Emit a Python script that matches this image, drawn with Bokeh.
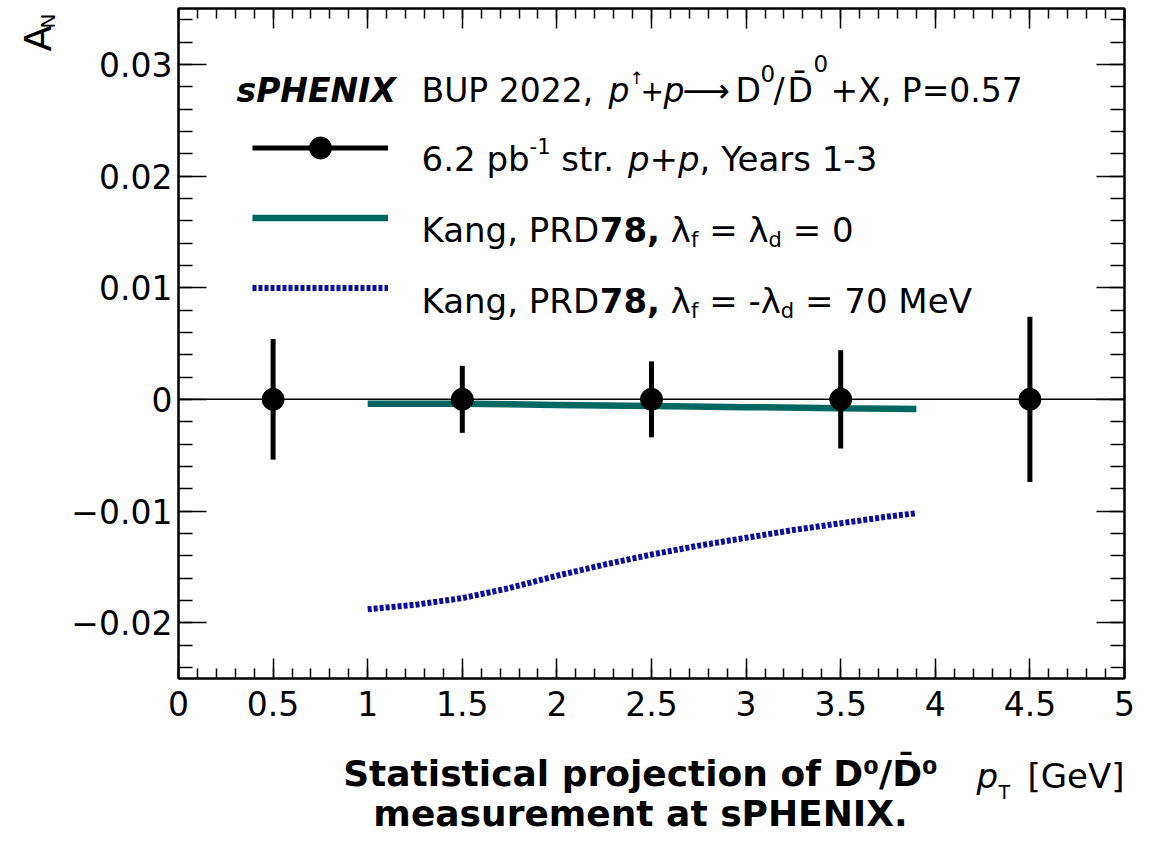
from math import pi
import numpy as np
from bokeh.plotting import figure
from bokeh.layouts import column, row as brow
from bokeh.models import (ColumnDataSource, Range1d, LinearAxis, SingleIntervalTicker,
                          CustomJSTickFormatter, Span, Label, Legend, LegendItem)
from bokeh.embed import file_html
from bokeh.resources import INLINE

# ---------------- data ----------------
pt_x = [0.5, 1.5, 2.5, 3.5, 4.5]
pt_y = [0.0, 0.0, 0.0, 0.0, 0.0]
pt_err = [0.0054, 0.0030, 0.0034, 0.0044, 0.0074]

kang0_x = [1.0, 1.5, 2.0, 2.5, 3.0, 3.5, 3.9]
kang0_y = [-0.0004, -0.0004, -0.0005, -0.0006, -0.0007, -0.0008, -0.00087]

kang70_x = [1.0, 1.25, 1.5, 1.75, 2.0, 2.25, 2.5, 2.75, 3.0, 3.25, 3.5, 3.75, 3.9]
kang70_y = [-0.0188, -0.0184, -0.0178, -0.0169, -0.0158, -0.0148, -0.0139,
            -0.0131, -0.0124, -0.0117, -0.0111, -0.0105, -0.0102]

x_limits = (0, 5)
y_limits = (-0.025, 0.035)

caption_lines = ["Statistical projection of D⁰/D̄⁰", "measurement at sPHENIX."]

# ---------------- styling / layout ----------------
FONT = "DejaVu Sans"
TEAL = "#00685f"
BLUE = "#0c0c9e"

TOTAL_W = 1146
LEFT_W = 64            # narrow panel holding the y title
TOP_H = 735            # height of the plotting row
BOT_H = 94             # caption panel (page stays within 829 px)
FRAME_L, FRAME_R = 178, 1124   # page x of frame edges
MIN_TOP, FRAME_B = 8, 678      # requested top border / page y of frame bottom

p = figure(width=TOTAL_W - LEFT_W, height=TOP_H, x_range=Range1d(*x_limits),
           y_range=Range1d(*y_limits), x_axis_type=None, y_axis_type=None,
           output_backend="svg", toolbar_location=None,
           min_border_left=FRAME_L - LEFT_W, min_border_right=TOTAL_W - FRAME_R,
           min_border_top=MIN_TOP, min_border_bottom=TOP_H - FRAME_B,
           background_fill_color="white", border_fill_color="white",
           outline_line_color="black", outline_line_width=2)

fmt_x = CustomJSTickFormatter(code="return String(Math.round(tick*10)/10);")
fmt_y = CustomJSTickFormatter(code="""
const v = Math.round(tick*1000)/1000;
if (Math.abs(v) < 1e-9) { return '0'; }
return (v < 0 ? '\u2212' : '') + Math.abs(v).toFixed(2);
""")
fmt_none = CustomJSTickFormatter(code="return '';")


def add_axis(side, interval, tick_len, fmt, show, standoff):
    ax = LinearAxis(ticker=SingleIntervalTicker(interval=interval, num_minor_ticks=5),
                    formatter=fmt,
                    major_tick_in=tick_len, major_tick_out=0,
                    minor_tick_in=tick_len // 2, minor_tick_out=0,
                    axis_line_width=2, axis_line_color="black",
                    major_tick_line_width=1.5, minor_tick_line_width=1.5,
                    major_label_text_font=FONT,
                    major_label_text_font_size="33px" if show else "1px",
                    major_label_standoff=standoff,
                    major_label_text_color="black")
    p.add_layout(ax, side)


add_axis("below", 0.5, 20, fmt_x, True, 12)
add_axis("above", 0.5, 20, fmt_none, False, 0)
add_axis("left", 0.01, 28, fmt_y, True, 6)
add_axis("right", 0.01, 28, fmt_none, False, 0)

p.add_layout(Span(location=0, dimension="width", line_color="black",
                  line_width=1.5, level="underlay"))

# ---------------- glyphs ----------------
teal_r = p.line(kang0_x, kang0_y, line_color=TEAL, line_width=6.5)
blue_r = p.line(kang70_x, kang70_y, line_color=BLUE, line_width=6, line_dash="4 2")

src = ColumnDataSource(dict(x=pt_x, y=pt_y,
                            lo=np.array(pt_y) - np.array(pt_err),
                            hi=np.array(pt_y) + np.array(pt_err)))
seg_r = p.segment(x0="x", y0="lo", x1="x", y1="hi", source=src,
                  line_color="black", line_width=5)
dot_r = p.scatter("x", "y", source=src, size=22, marker="circle",
                  fill_color="black", line_color="black")

leg = Legend(items=[LegendItem(label=" ", renderers=[seg_r, dot_r]),
                    LegendItem(label=" ", renderers=[teal_r]),
                    LegendItem(label=" ", renderers=[blue_r])],
             location=(74, 363), glyph_width=136, glyph_height=55, spacing=15,
             padding=0, margin=0, label_standoff=0, label_width=1, label_height=1,
             label_text_font_size="1px", border_line_alpha=0,
             background_fill_alpha=0)
p.add_layout(leg)


# ---------------- text panels ----------------
def blank_fig(w, h):
    return figure(width=w, height=h, x_range=Range1d(0, 1), y_range=Range1d(0, 1),
                  x_axis_type=None, y_axis_type=None, output_backend="svg",
                  toolbar_location=None, min_border=0, title=None,
                  outline_line_color=None, background_fill_color="white",
                  border_fill_color="white")


left_fig = blank_fig(LEFT_W, TOP_H)
bot_fig = blank_fig(TOTAL_W, BOT_H)

# (figure, page x of its frame's left edge, page y of its frame's bottom edge)
PANELS = {"main": (p, FRAME_L, FRAME_B),
          "left": (left_fig, 0, FRAME_B),
          "bottom": (bot_fig, 0, TOP_H + BOT_H)}

REG = {' ': .318, ',': .318, '-': .361, '.': .318, '/': .337, '=': .838, '+': .838,
       'K': .656, 'M': .863, 'P': .603, 'R': .695, 'D': .770, 'V': .684, 'X': .686,
       'Y': .611, 'a': .613, 'b': .635, 'd': .635, 'e': .615, 'f': .352, 'g': .635,
       'n': .634, 'p': .635, 'r': .411, 's': .521, 't': .392, 'λ': .592}
BOLD = {'7': .696, '8': .696, ',': .381, ' ': .348}


def text_width(s, style):
    w = 0.0
    for ch in s:
        if 'bold' in style and ch in BOLD:
            w += BOLD[ch]
        elif ch.isdigit():
            w += .636
        else:
            w += REG.get(ch, .6)
    return w


def put(panel, text, rx, ry, size, style="normal", angle=0.0, align="left"):
    fig, ox, oy = PANELS[panel]
    fig.add_layout(Label(x=rx - ox, y=oy - ry, x_units="screen", y_units="screen",
                         text=text, text_font=FONT, text_font_size=f"{size}px",
                         text_font_style=style, text_color="black", text_align=align,
                         text_baseline="alphabetic", angle=angle))


def text_row(x, y, segs):
    for txt, size, style, dy in segs:
        lead = len(txt) - len(txt.lstrip(' '))
        x += lead * REG[' '] * size
        core = txt.strip(' ')
        put("main", core, x, y + dy, size, style)
        x += text_width(core, style) * size


# legend header
for txt, hx, dy, size, style in [
        ("sPHENIX", 236, 0, 33, "bold italic"),
        ("BUP 2022,", 421, 0, 33, "normal"),
        ("p", 608, 0, 33, "italic"),
        ("↑", 629, -13, 17, "normal"),
        ("+", 640, 0, 28, "normal"),
        ("p", 663, 0, 33, "italic"),
        ("⟶", 682, 0, 33, "normal"),
        ("D", 735, 0, 33, "normal"),
        ("0", 760, -17, 23, "normal"),
        ("/", 773, 0, 33, "normal"),
        ("D\u0304", 787, 0, 33, "normal"),
        ("0", 813, -27, 23, "normal"),
        ("+X, P=0.57", 830, 0, 33, "normal")]:
    put("main", txt, hx, 90 + dy, size, style)

# legend entries
text_row(421, 158, [("6.2 pb", 34, "normal", 0), ("-1", 21, "normal", -13),
                    (" str.", 34, "normal", 0), (" p+p", 34, "italic", 0),
                    (", Years 1-3", 34, "normal", 0)])
text_row(421, 229, [("Kang, PRD", 34, "normal", 0), ("78,", 34, "bold", 0),
                    (" λ", 34, "normal", 0), ("f", 21, "normal", 10),
                    (" = λ", 34, "normal", 0), ("d", 21, "normal", 10),
                    (" = 0", 34, "normal", 0)])
text_row(421, 300, [("Kang, PRD", 34, "normal", 0), ("78,", 34, "bold", 0),
                    (" λ", 34, "normal", 0), ("f", 21, "normal", 10),
                    (" = -λ", 34, "normal", 0), ("d", 21, "normal", 10),
                    (" = 70 MeV", 34, "normal", 0)])

# axis titles (rotated labels render ~12px right of their anchor)
put("left", "A", 37, 51, 38, angle=pi / 2)
put("left", "N", 47, 28, 20, angle=pi / 2)
put("bottom", "p", 976, 775, 34, "italic")
put("bottom", "T", 998, 791, 19)
put("bottom", "[GeV]", 1027, 775, 34)

# caption
put("bottom", caption_lines[0], 640, 773, 36, "bold", align="center")
put("bottom", caption_lines[1], 640, 813, 36, "bold", align="center")

layout = column(brow(left_fig, p, spacing=0), bot_fig, spacing=0)
open("out.html", "w").write(file_html(layout, INLINE))
